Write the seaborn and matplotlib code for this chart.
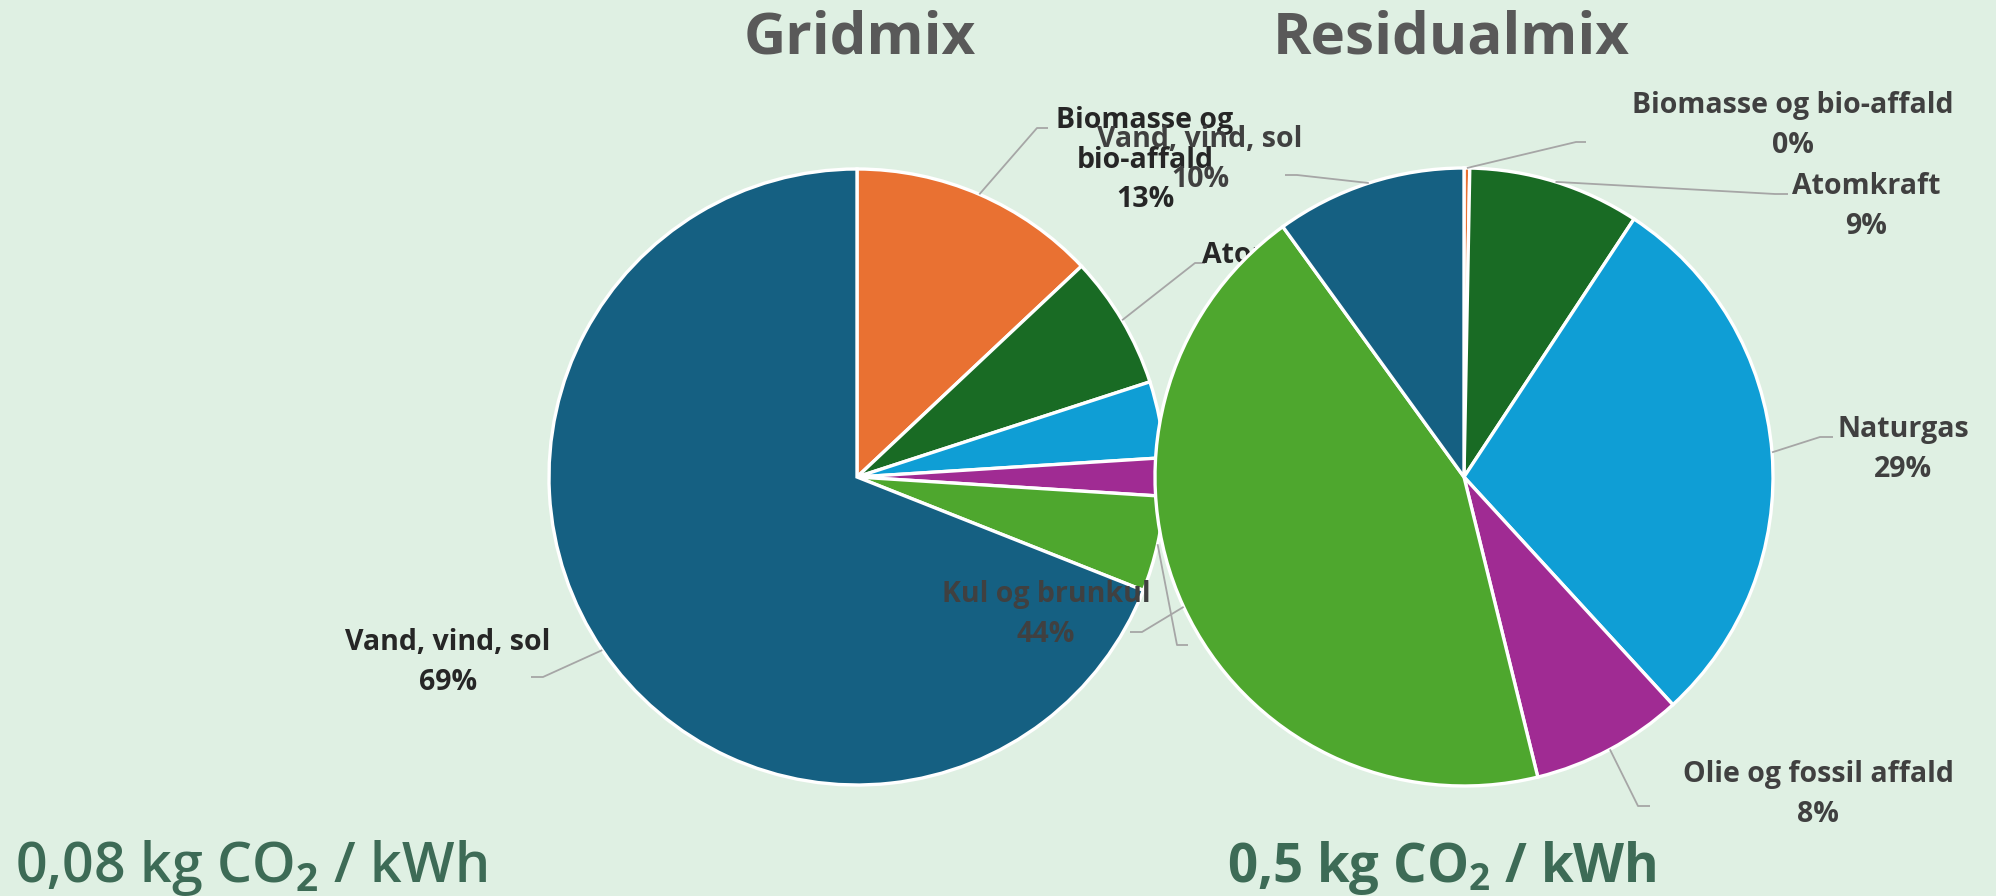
import numpy as np
import matplotlib
matplotlib.use("Agg")
import matplotlib.pyplot as plt
import seaborn as sns

# -----------------------------
# data
# -----------------------------
categories = ["Biomasse og bio-affald", "Atomkraft", "Naturgas",
              "Olie og fossil affald", "Kul og brunkul", "Vand, vind, sol"]
grid_values = [13, 7, 4, 2, 5, 69]
residual_values = [0.3, 9, 29, 8, 44, 10]
grid_title = "Gridmix"
residual_title = "Residualmix"
grid_co2 = "0,08"
residual_co2 = "0,5"

colors = ["#E97132", "#196B24", "#0F9ED5", "#A02B93", "#4EA72E", "#156082"]
BG = "#DFF0E3"

sns.set_theme(style="white")
plt.rcParams["font.family"] = ["Open Sans", "DejaVu Sans"]
plt.rcParams["mathtext.fontset"] = "custom"
plt.rcParams["mathtext.rm"] = "Open Sans:bold"

W, H = 1996, 896
fig = plt.figure(figsize=(W / 100, H / 100), dpi=100, facecolor=BG)
ax = fig.add_axes([0, 0, 1, 1])
ax.set_facecolor(BG)


def Y(y):
    # pixel row from the top -> data y
    return H - y


# -----------------------------
# pies
# -----------------------------
grid_c, grid_r = (857, 477), 308
res_c, res_r = (1464, 477), 309

grid_wedges, _ = ax.pie(
    grid_values, colors=colors, startangle=90, counterclock=False,
    center=(grid_c[0], Y(grid_c[1])), radius=grid_r,
    wedgeprops=dict(edgecolor="white", linewidth=2.4, zorder=1),
)
res_wedges, _ = ax.pie(
    residual_values, colors=colors, startangle=90, counterclock=False,
    center=(res_c[0], Y(res_c[1])), radius=res_r,
    wedgeprops=dict(edgecolor="white", linewidth=2.4, zorder=5),
)

ax.set_xlim(0, W)
ax.set_ylim(0, H)
ax.set_aspect("equal")
ax.axis("off")


def edge_point(w):
    ang = np.deg2rad((w.theta1 + w.theta2) / 2)
    cx, cy = w.center
    return cx + w.r * np.cos(ang), cy + w.r * np.sin(ang)


def label(w, lines, value, x, y0, elbow, end, z, color, family=None):
    sx, sy = edge_point(w)
    ax.plot([sx, elbow[0], end[0]], [sy, Y(elbow[1]), Y(end[1])],
            color="#A6A6A6", lw=1.3, zorder=z, solid_capstyle="butt")
    txt = lines + [f"{round(value)}%"]
    for i, t in enumerate(txt):
        ax.text(x, Y(y0 + i * 39.5), t, ha="center", va="baseline",
                fontsize=20.5, fontweight="bold", color=color, zorder=z,
                family=family or ["Open Sans", "DejaVu Sans"])


narrow = ["Liberation Sans Narrow", "Open Sans", "DejaVu Sans"]

# Gridmix labels (mostly hidden by the right pie)
label(grid_wedges[0], ["Biomasse og", "bio-affald"], grid_values[0],
      1145, 128, (1037, 128), (1048, 128), 3, "#262626")
label(grid_wedges[1], ["Atomkraft"], grid_values[1],
      1276, 263, (1195, 263), (1205, 263), 3, "#262626")
label(grid_wedges[2], ["Naturgas"], grid_values[2],
      1320, 400, (1215, 400), (1225, 400), 3, "#262626")
label(grid_wedges[3], ["Olie og fossil", "affald"], grid_values[3],
      1330, 470, (1215, 470), (1225, 470), 3, "#262626")
label(grid_wedges[4], ["Kul og brunkul"], grid_values[4],
      1310, 650, (1177, 645), (1188, 645), 3, "#262626")
label(grid_wedges[5], ["Vand, vind, sol"], grid_values[5],
      448, 650, (543, 677), (531, 677), 3, "#262626")

# Residualmix labels
label(res_wedges[0], ["Biomasse og bio-affald"], residual_values[0],
      1793, 113, (1576, 142), (1586, 142), 6, "#404040", family=narrow)
label(res_wedges[1], ["Atomkraft"], residual_values[1],
      1866, 194, (1775, 194), (1788, 194), 6, "#404040", family=narrow)
label(res_wedges[2], ["Naturgas"], residual_values[2],
      1903, 437, (1820, 437), (1833, 437), 6, "#404040")
label(res_wedges[3], ["Olie og fossil affald"], residual_values[3],
      1818, 782, (1638, 806), (1650, 806), 6, "#404040")
label(res_wedges[4], ["Kul og brunkul"], residual_values[4],
      1046, 602, (1142, 632), (1130, 632), 6, "#404040")
label(res_wedges[5], ["Vand, vind, sol"], residual_values[5],
      1200, 147, (1297, 175), (1285, 175), 6, "#404040")

# -----------------------------
# titles and CO2 numbers
# -----------------------------
ax.text(860, Y(53), grid_title, ha="center", va="baseline", fontsize=42,
        fontweight="bold", color="#595959", zorder=7)
ax.text(1451, Y(53), residual_title, ha="center", va="baseline", fontsize=42,
        fontweight="bold", color="#595959", zorder=7)

ax.text(15, Y(882), grid_co2 + r" kg CO$_\mathrm{2}$ / kWh", ha="left",
        va="baseline", fontsize=40, fontweight="semibold", color="#3D6B56",
        zorder=7)
ax.text(1227, Y(882), residual_co2 + r" kg CO$_\mathrm{2}$ / kWh", ha="left",
        va="baseline", fontsize=38, fontweight="bold", color="#3D6B56",
        zorder=7)

fig.savefig("out.png", dpi=100, facecolor=BG)
